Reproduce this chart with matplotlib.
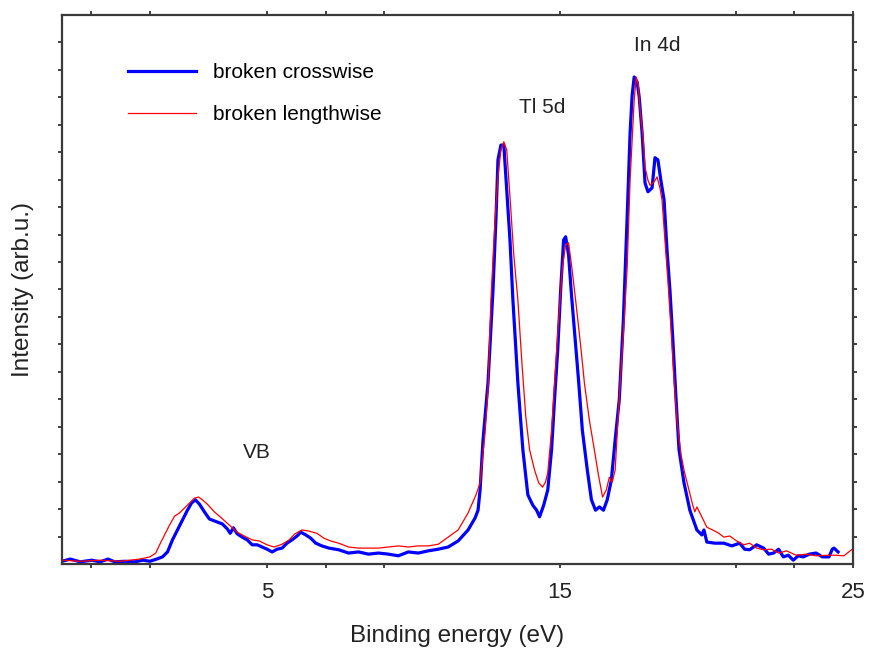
import matplotlib as mpl
mpl.use('Agg')
import matplotlib.pyplot as plt
from matplotlib.ticker import FixedLocator, NullFormatter

plt.rcParams['font.family'] = ['Liberation Sans', 'DejaVu Sans']

# sample broken crosswise
cross_energy = [-2.0, -1.72, -1.38, -0.98, -0.70, -0.43, -0.20, 0.14, 0.48, 0.76,
                1.0, 1.23, 1.43, 1.60, 1.77, 1.94, 2.11, 2.28, 2.42, 2.55,
                2.69, 2.86, 3.03, 3.23, 3.47, 3.64, 3.74, 3.85, 3.98, 4.15,
                4.32, 4.49, 4.66, 4.83, 5.0, 5.17, 5.34, 5.51, 5.68, 5.85,
                6.02, 6.15, 6.32, 6.49, 6.66, 6.87, 7.11, 7.44, 7.78, 8.12,
                8.46, 8.80, 9.14, 9.48, 9.82, 10.16, 10.50, 10.84, 11.18, 11.52,
                11.86, 12.10, 12.20, 12.27, 12.37, 12.54, 12.71, 12.81, 12.88, 12.98,
                13.08, 13.18, 13.29, 13.39, 13.56, 13.73, 13.90, 14.07, 14.20, 14.30,
                14.44, 14.58, 14.71, 14.81, 14.92, 15.02, 15.12, 15.19, 15.29, 15.39,
                15.49, 15.63, 15.76, 15.93, 16.07, 16.21, 16.34, 16.48, 16.61, 16.75,
                16.88, 17.02, 17.16, 17.29, 17.39, 17.46, 17.53, 17.63, 17.70, 17.80,
                17.90, 18.00, 18.14, 18.24, 18.34, 18.44, 18.55, 18.65, 18.75, 18.85,
                18.96, 19.06, 19.23, 19.43, 19.67, 19.84, 19.91, 20.01, 20.28, 20.59,
                20.86, 21.13, 21.30, 21.47, 21.71, 21.95, 22.12, 22.29, 22.46, 22.62,
                22.79, 22.96, 23.13, 23.30, 23.51, 23.74, 23.95, 24.18, 24.29, 24.35,
                24.49]
cross_counts = [0.5, 0.9, 0.4, 0.7, 0.4, 0.9, 0.4, 0.5, 0.4, 0.7,
                0.5, 0.9, 1.3, 2.2, 4.4, 6.2, 8.0, 9.8, 11.1, 11.7,
                10.9, 9.5, 8.2, 7.8, 7.3, 6.4, 5.6, 6.6, 5.5, 4.9,
                4.4, 3.5, 3.5, 3.1, 2.7, 2.2, 2.7, 2.9, 3.8, 4.4,
                5.1, 5.8, 5.3, 4.7, 3.8, 3.3, 2.9, 2.6, 2.0, 2.2,
                1.8, 2.0, 1.8, 1.5, 2.2, 2.0, 2.4, 2.7, 3.1, 4.2,
                6.2, 8.4, 9.8, 13.5, 22.6, 33.0, 49.9, 62.7, 73.6, 76.3,
                76.3, 68.1, 59.0, 48.1, 33.0, 20.8, 12.6, 10.7, 9.8, 8.6,
                10.7, 13.5, 20.8, 29.9, 39.0, 49.9, 59.0, 59.6, 56.3, 49.0,
                42.6, 33.5, 24.4, 17.1, 11.7, 9.8, 10.4, 9.8, 11.7, 15.3,
                22.6, 29.9, 44.4, 63.2, 78.5, 85.4, 88.7, 87.8, 85.1, 78.5,
                69.4, 67.8, 68.5, 74.0, 73.6, 69.9, 66.3, 57.2, 49.9, 40.8,
                29.9, 20.8, 14.8, 9.8, 6.2, 5.3, 6.2, 4.0, 3.8, 3.8,
                3.3, 3.8, 2.7, 2.6, 3.5, 2.9, 1.8, 2.0, 2.7, 1.3,
                1.6, 0.7, 1.5, 1.3, 1.8, 2.0, 1.3, 1.3, 2.7, 2.9,
                2.2]

# sample broken lengthwise
length_energy = [-2.0, -1.38, -0.70, -0.03, 0.65, 1.0, 1.20, 1.33, 1.50, 1.67,
                 1.84, 2.01, 2.18, 2.35, 2.52, 2.66, 2.79, 2.96, 3.20, 3.44,
                 3.71, 3.98, 4.22, 4.49, 4.73, 5.0, 5.24, 5.51, 5.75, 5.95,
                 6.19, 6.43, 6.70, 6.94, 7.17, 7.44, 7.78, 8.12, 8.46, 8.80,
                 9.14, 9.48, 9.82, 10.16, 10.50, 10.84, 11.18, 11.52, 11.86, 12.13,
                 12.27, 12.44, 12.54, 12.64, 12.78, 12.88, 12.98, 13.08, 13.18, 13.32,
                 13.42, 13.56, 13.69, 13.83, 13.96, 14.13, 14.27, 14.40, 14.50, 14.58,
                 14.71, 14.81, 14.95, 15.08, 15.19, 15.29, 15.39, 15.53, 15.70, 15.83,
                 16.00, 16.17, 16.31, 16.45, 16.58, 16.68, 16.78, 16.88, 17.05, 17.19,
                 17.29, 17.39, 17.46, 17.53, 17.60, 17.67, 17.73, 17.84, 17.90, 18.00,
                 18.07, 18.21, 18.31, 18.41, 18.48, 18.58, 18.68, 18.79, 18.89, 18.99,
                 19.13, 19.23, 19.40, 19.53, 19.60, 19.67, 19.81, 20.01, 20.21, 20.42,
                 20.59, 20.79, 21.03, 21.27, 21.47, 21.71, 21.95, 22.22, 22.46, 22.73,
                 23.06, 23.40, 23.74, 24.18, 24.42, 24.69, 24.95]
length_counts = [0.7, 0.5, 0.7, 0.5, 0.9, 1.3, 2.0, 3.5, 5.3, 7.1,
                 8.7, 9.3, 10.2, 11.1, 12.0, 12.2, 11.7, 10.9, 9.5, 8.4,
                 7.1, 5.8, 5.1, 4.4, 4.2, 3.5, 3.1, 3.6, 4.4, 5.5,
                 6.2, 6.0, 5.6, 4.7, 4.2, 3.8, 3.1, 2.9, 2.9, 2.9,
                 3.1, 3.3, 3.1, 3.3, 3.3, 3.6, 4.9, 6.2, 9.3, 12.6,
                 14.8, 23.9, 31.7, 48.1, 62.7, 70.5, 75.4, 76.9, 75.4, 64.5,
                 56.3, 48.1, 37.2, 26.8, 20.8, 17.1, 14.8, 14.0, 14.9, 16.6,
                 24.4, 33.0, 44.4, 54.1, 58.1, 58.5, 54.5, 48.1, 39.9, 33.0,
                 26.2, 20.8, 16.2, 12.2, 13.5, 15.8, 14.9, 17.1, 33.0, 44.4,
                 54.1, 69.9, 77.2, 84.5, 88.7, 87.2, 82.7, 77.2, 72.3, 69.9,
                 69.0, 69.6, 70.5, 68.5, 66.3, 59.0, 51.7, 42.6, 33.5, 26.2,
                 19.9, 17.1, 13.5, 10.7, 9.5, 10.4, 8.9, 6.7, 6.2, 5.6,
                 4.9, 5.1, 4.2, 3.5, 3.8, 2.9, 2.6, 2.7, 2.0, 2.4,
                 1.6, 1.8, 1.5, 1.6, 1.6, 1.5, 2.6]

peak_labels = ['VB', 'Tl 5d', 'In 4d']
peak_pos = [(4.66, 20.4), (14.39, 83.1), (18.31, 94.4)]

fig = plt.figure(figsize=(8.7, 6.51), dpi=100)
ax = fig.add_axes([0.0713, 0.1336, 0.9092, 0.8434])

ax.plot(cross_energy, cross_counts, color='#0000ff', lw=2.3, label='broken crosswise')
ax.plot(length_energy, length_counts, color='#ff0000', lw=0.9, label='broken lengthwise')

for lab, (px, py) in zip(peak_labels, peak_pos):
    ax.text(px, py, lab, ha='center', va='center', fontsize=15, color='#222222')

ax.set_xlim(-2, 25)
ax.set_ylim(0, 100)

ax.xaxis.set_major_locator(FixedLocator([5, 15, 25]))
ax.xaxis.set_minor_locator(FixedLocator([-1, 1, 7, 9, 21, 23]))
ax.yaxis.set_major_locator(FixedLocator(list(range(5, 100, 5))))
ax.yaxis.set_major_formatter(NullFormatter())

ax.tick_params(axis='both', which='both', direction='out', length=3, width=1.2,
               color='#222222', top=True, right=True)
ax.tick_params(axis='x', which='major', labelsize=16, pad=10, labelcolor='#222222')

for side in ['left', 'bottom', 'top', 'right']:
    ax.spines[side].set_color('#3a3a3a')
    ax.spines[side].set_linewidth(1.6)

ax.set_xlabel('Binding energy (eV)', fontsize=17.5, color='#222222', labelpad=16)
ax.set_ylabel('Intensity (arb.u.)', fontsize=17.5, color='#222222', labelpad=14)

ax.legend(loc='upper left', bbox_to_anchor=(0.083, 0.912), frameon=False,
          fontsize=15, handlelength=3.27, handletextpad=0.82, labelspacing=1.1,
          borderpad=0, borderaxespad=0)

fig.savefig('out.png', dpi=100)
